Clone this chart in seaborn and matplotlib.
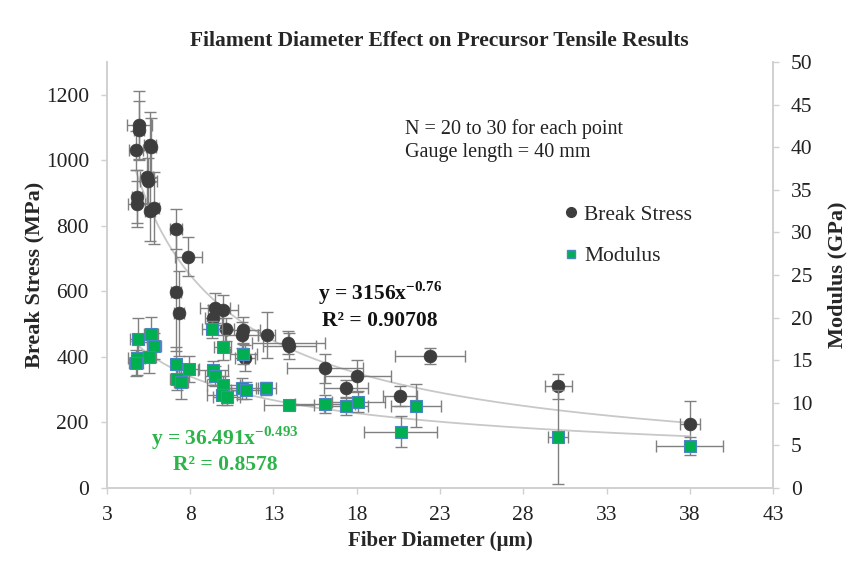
import matplotlib
matplotlib.use("Agg")
import matplotlib.pyplot as plt
import numpy as np
import pandas as pd
import seaborn as sns
from matplotlib.lines import Line2D

# break stress (MPa) vs fiber diameter (um)
break_x = [4.94, 4.94, 5.58, 5.62, 4.74, 5.38, 5.48, 4.78, 4.78, 5.82, 5.58, 7.14, 7.88,
           7.14, 7.34, 9.49, 9.99, 9.38, 10.15, 11.19, 11.08, 12.58, 11.29, 13.95, 13.9,
           16.09, 18.04, 17.35, 20.6, 22.4, 30.1, 38.0]
break_y = [1108, 1091, 1047, 1040, 1030, 950, 938, 889, 867, 854, 844, 790, 706,
           599, 533, 549, 543, 518, 485, 482, 467, 467, 396, 434, 443,
           365, 342, 304, 281, 403, 311, 195]
break_xerr = [0.75, 0.3, 0.35, 0.3, 0.4, 0.4, 0.5, 0.3, 0.5, 0.3, 0.3, 0.35, 0.8,
              0.3, 0.3, 0.9, 0.9, 0.5, 0.5, 1.0, 1.0, 0.5, 0.6, 1.6, 2.2,
              2.3, 2.0, 1.3, 1.0, 2.1, 0.8, 0.6]
break_yerr = [105, 90, 100, 90, 60, 80, 70, 80, 70, 110, 90, 60, 60,
              180, 130, 45, 45, 40, 35, 40, 40, 70, 40, 40, 35,
              45, 50, 25, 30, 25, 38, 70]

# modulus (GPa) vs fiber diameter (um)
mod_x = [4.88, 5.64, 5.82, 4.78, 5.52, 4.74, 7.12, 7.94, 7.19, 7.44, 9.28, 9.94, 11.19,
         9.34, 9.49, 9.99, 11.08, 11.35, 12.55, 9.88, 10.18, 13.95, 16.09, 17.35, 18.09,
         21.56, 20.63, 30.1, 38.0]
mod_y = [17.45, 18.08, 16.67, 15.22, 15.34, 14.64, 14.52, 13.97, 12.76, 12.48, 18.63, 16.51, 15.73,
         13.85, 13.15, 12.09, 11.70, 11.50, 11.70, 10.92, 10.72, 9.74, 9.86, 9.62, 10.13,
         9.66, 6.61, 6.02, 4.93]
mod_xerr = [0.5, 0.4, 0.4, 0.5, 0.4, 0.4, 0.3, 0.6, 0.4, 0.4, 0.6, 0.5, 0.8,
            0.9, 0.6, 1.0, 1.0, 0.9, 0.6, 0.9, 0.8, 1.5, 1.8, 1.3, 1.6,
            1.5, 2.2, 0.6, 2.0]
mod_yerr = [2.5, 2.0, 1.5, 2.0, 1.8, 1.5, 2.0, 1.5, 1.2, 2.0, 1.0, 1.5, 1.2,
            1.0, 1.2, 1.0, 1.2, 1.0, 0.8, 1.2, 1.0, 0.6, 1.0, 1.0, 1.2,
            2.5, 1.8, 5.5, 1.0]

# power-law trendlines printed on the chart
break_fit = (3156, -0.76)
mod_fit = (36.491, -0.493)

sns.set_theme(style="white")
plt.rcParams["font.family"] = ["Liberation Serif", "DejaVu Serif"]
plt.rcParams["mathtext.fontset"] = "custom"
plt.rcParams["mathtext.rm"] = "Liberation Serif"
plt.rcParams["mathtext.bf"] = "Liberation Serif:bold"

dark = "#3d3d3d"
green = "#00b050"
edge_blue = "#4a86c5"
err_col = "#808080"
trend_col = "#c8c8c8"
eq_green = "#2db34a"

bdf = pd.DataFrame({"d": break_x, "s": break_y})
mdf = pd.DataFrame({"d": mod_x, "m": mod_y})

fig = plt.figure(figsize=(8.67, 5.61), dpi=100)
ax = fig.add_axes([0.1234, 0.1301, 0.7682, 0.7594])
ax2 = ax.twinx()

# trendlines
xf = np.linspace(min(break_x), max(break_x), 200)
ax.plot(xf, break_fit[0] * xf ** break_fit[1], color=trend_col, lw=1.3, zorder=1)
xm = np.linspace(min(mod_x), max(mod_x), 200)
ax2.plot(xm, mod_fit[0] * xm ** mod_fit[1], color=trend_col, lw=1.3, zorder=1)

ekw = dict(fmt="none", ecolor=err_col, elinewidth=1.0, capsize=4, capthick=1.0)
ax.errorbar(break_x, break_y, xerr=break_xerr, yerr=break_yerr, zorder=2, **ekw)
sns.scatterplot(data=bdf, x="d", y="s", ax=ax, marker="o", s=85, color=dark,
                edgecolor=dark, linewidth=0.5, zorder=3, legend=False)

ax2.errorbar(mod_x, mod_y, xerr=mod_xerr, yerr=mod_yerr, zorder=2, **ekw)
sns.scatterplot(data=mdf, x="d", y="m", ax=ax2, marker="s", s=70, color=green,
                edgecolor=edge_blue, linewidth=0.8, zorder=3, legend=False)

ax.set_xlim(3, 43)
ax.set_ylim(0, 1300)
ax2.set_ylim(0, 50)
ax.set_xticks(np.arange(3, 44, 5))
ax.set_yticks(np.arange(0, 1201, 200))
ax2.set_yticks(np.arange(0, 51, 5))

ax.set_xlabel("Fiber Diameter (\u00b5m)", fontsize=15, fontweight="bold", labelpad=4)
ax.set_ylabel("Break Stress (MPa)", fontsize=16, fontweight="bold", labelpad=1)
ax2.set_ylabel("Modulus (GPa)", fontsize=16, fontweight="bold", labelpad=11)
fig.suptitle("Filament Diameter Effect on Precursor Tensile Results", x=0.507, y=0.945,
             fontsize=15.5, fontweight="bold")

for a in (ax, ax2):
    a.spines["top"].set_visible(False)
    for side in ("left", "bottom", "right"):
        a.spines[side].set_color("#d0d0d0")
        a.spines[side].set_linewidth(1.2)
    a.tick_params(axis="both", labelsize=15.5, colors="#d0d0d0", labelcolor="#222222",
                  length=4, width=1, direction="out", pad=9)
ax.tick_params(left=True, bottom=True)
ax2.tick_params(right=True)

ax.text(0.448, 0.866, "N = 20 to 30 for each point\nGauge length = 40 mm",
        transform=ax.transAxes, fontsize=14.5, va="top", linespacing=1.3, color="#222222")

ax.text(0.41, 0.49, r"y = 3156x$^{\mathbf{-0.76}}$" + "\nR\u00b2 = 0.90708",
        transform=ax.transAxes, fontsize=15.5, fontweight="bold", ha="center", va="top",
        linespacing=1.25, color="#111111")
ax.text(0.177, 0.15, r"y = 36.491x$^{\mathbf{-0.493}}$" + "\nR\u00b2 = 0.8578",
        transform=ax.transAxes, fontsize=15.5, fontweight="bold", ha="center", va="top",
        linespacing=1.25, color=eq_green)

handles = [
    Line2D([], [], marker="o", ls="none", color=dark, markersize=7, label="Break Stress"),
    Line2D([], [], marker="s", ls="none", markerfacecolor=green, markeredgecolor=edge_blue,
           markersize=6, label="Modulus"),
]
ax2.legend(handles=handles, loc="upper left", bbox_to_anchor=(0.668, 0.685), frameon=False,
           fontsize=15.5, handletextpad=0.1, labelspacing=1.0, handlelength=1.0,
           borderaxespad=0)

fig.savefig("out.png", dpi=100)
